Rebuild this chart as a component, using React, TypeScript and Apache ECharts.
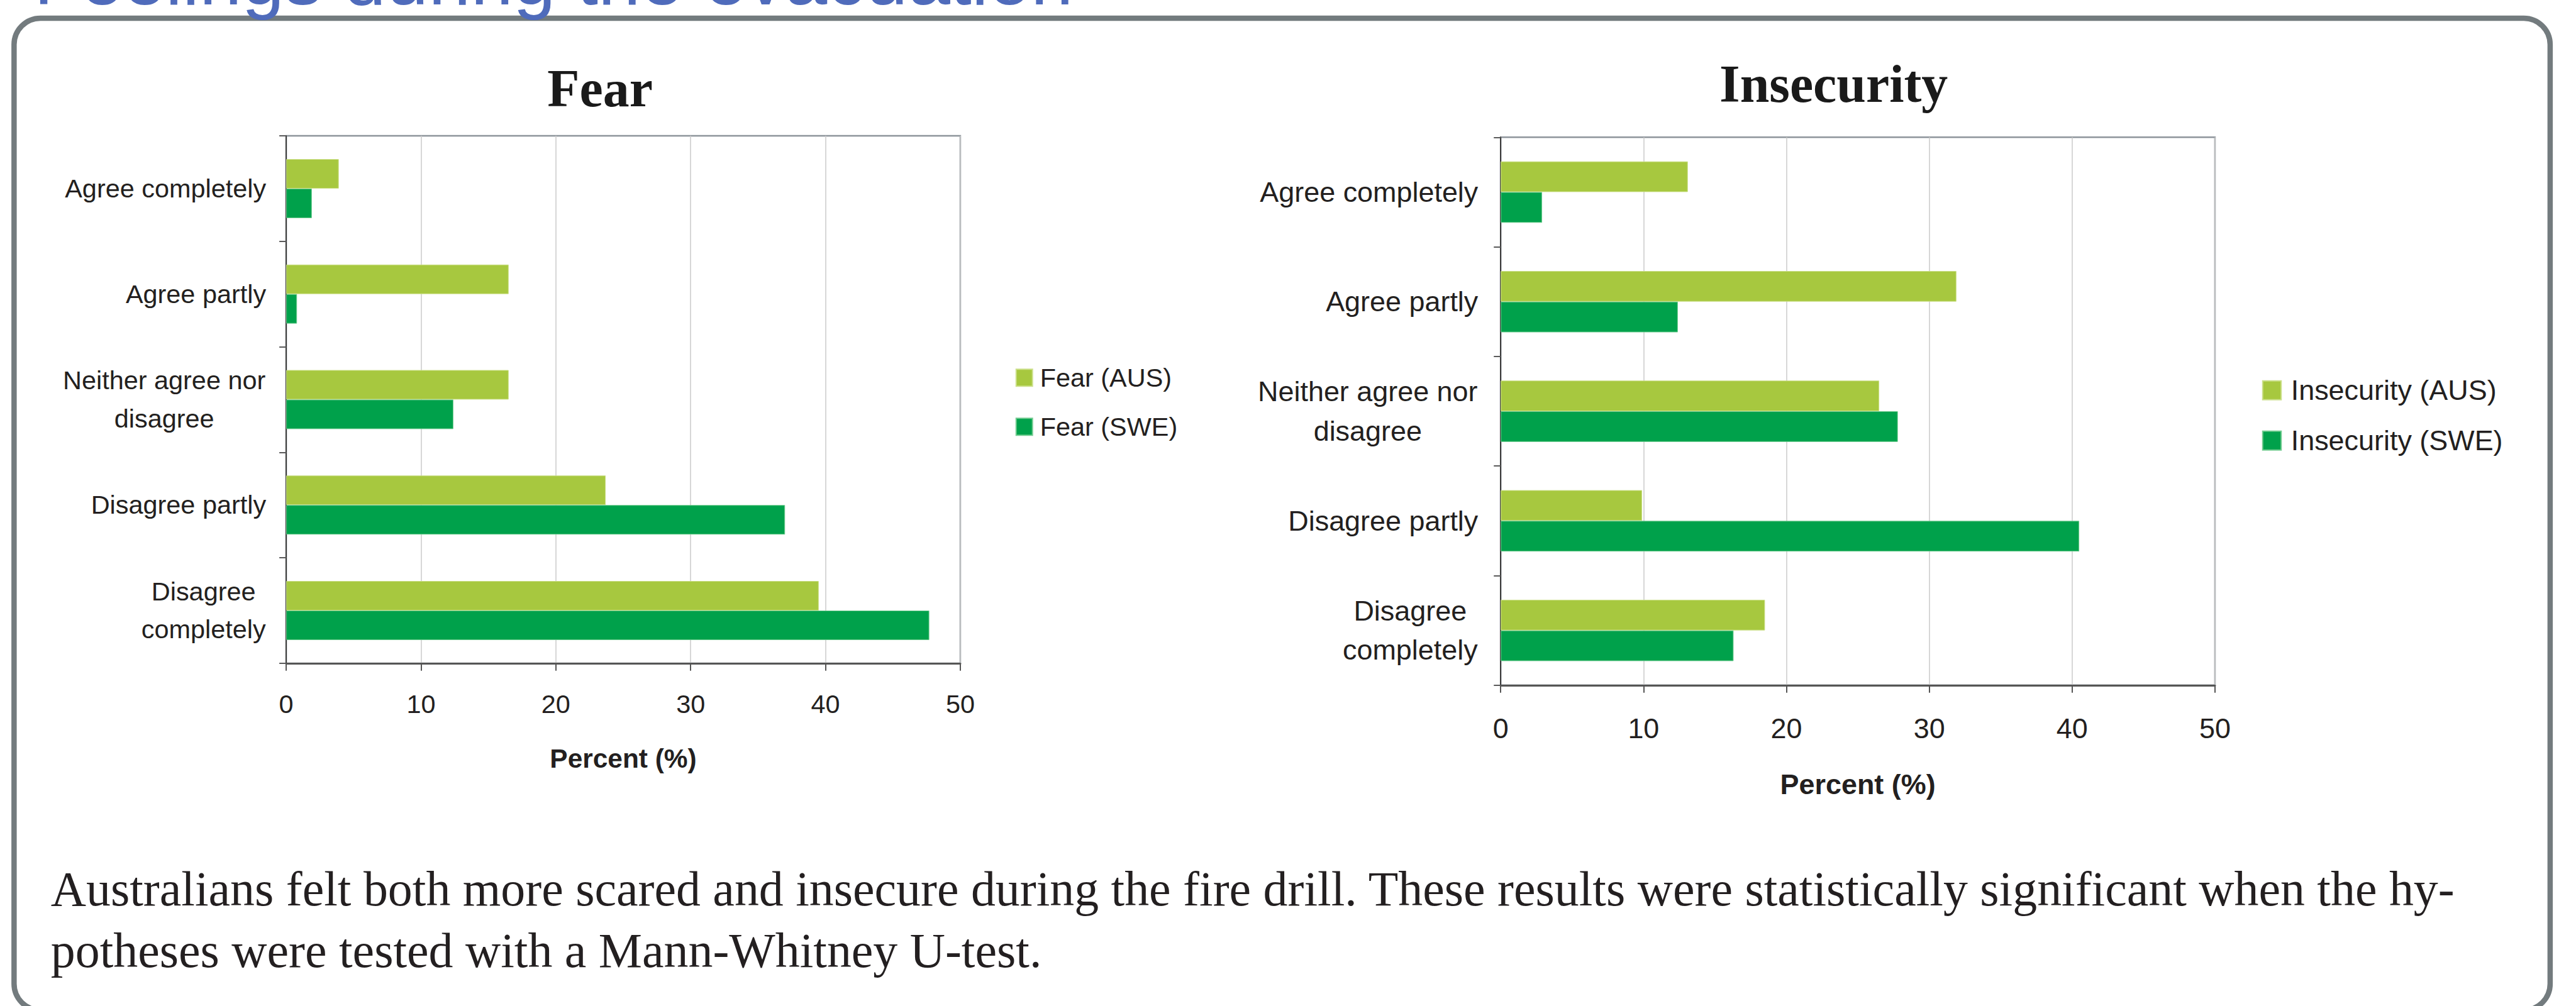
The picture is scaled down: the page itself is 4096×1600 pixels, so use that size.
import React, { useEffect, useRef } from "react";
import * as echarts from "echarts";

const S = 0.998;
const W = 4096;
const H = 1600;

// ---------- data ----------
const categories = [
  "Agree completely",
  "Agree partly",
  "Neither agree nor\ndisagree",
  "Disagree partly",
  "Disagree\ncompletely",
];
const fearAUS = [3.9, 16.5, 16.5, 23.7, 39.5];
const fearSWE = [1.9, 0.8, 12.4, 37.0, 47.7];
const insecurityAUS = [13.1, 31.9, 26.5, 9.9, 18.5];
const insecuritySWE = [2.9, 12.4, 27.8, 40.5, 16.3];
const xTicks = [0, 10, 20, 30, 40, 50];
const chartTitles = ["Fear", "Insecurity"];
const fearNames = ["Fear (AUS)", "Fear (SWE)"];
const insecurityNames = ["Insecurity (AUS)", "Insecurity (SWE)"];
const axisName = "Percent (%)";
const pageTitle = "Feelings during the evacuation";
const bodyLines = [
  "Australians felt both more scared and insecure during the fire drill. These results were statistically significant when the hy-",
  "potheses were tested with a Mann-Whitney U-test.",
];

const AUS_COLOR = "#A7C83F";
const SWE_COLOR = "#00A14B";
const TEXT = "#231F20";
const SANS = '"Liberation Sans", Arial, sans-serif';
const SERIF = '"Liberation Serif", "Times New Roman", serif';

// layout (reference pixel units, scaled by S)
const panels = [
  {
    names: fearNames,
    aus: fearAUS,
    swe: fearSWE,
    title: chartTitles[0],
    titleX: 956,
    titleBase: 169,
    grid: { x0: 456, y0: 216.5, x1: 1530, y1: 1057 },
    fs: 41.5,
    lh: 61,
    labelMargin: 32,
    tickMargin: 45,
    nameGap: 131,
    nameFs: 42.5,
    legend: { left: 1618, top: 581.5, iw: 26, ih: 27, gap: 37, pad: 7 },
  },
  {
    names: insecurityNames,
    aus: insecurityAUS,
    swe: insecuritySWE,
    title: chartTitles[1],
    titleX: 2921.5,
    titleBase: 162.5,
    grid: { x0: 2391, y0: 218.75, x1: 3529, y1: 1092 },
    fs: 45,
    lh: 62.5,
    labelMargin: 36,
    tickMargin: 46,
    nameGap: 135.5,
    nameFs: 45,
    legend: { left: 3604, top: 599.5, iw: 29.5, ih: 30, gap: 35, pad: 10.5 },
  },
];

function measure(text: string, font: string): number {
  const c = document.createElement("canvas").getContext("2d");
  if (!c) return text.length * 20;
  c.font = font;
  return c.measureText(text).width;
}

export default function App() {
  const ref = useRef<HTMLDivElement>(null);

  useEffect(() => {
    if (!ref.current) return;
    document.body.style.margin = "0";
    const chart = echarts.init(ref.current, null, { renderer: "svg", width: W, height: H });

    const grids: any[] = [];
    const xAxes: any[] = [];
    const yAxes: any[] = [];
    const series: any[] = [];
    const legends: any[] = [];
    const graphics: any[] = [];

    panels.forEach((p, i) => {
      const fs = p.fs * S;
      const labelFont = `${fs}px ${SANS}`;
      const rich: any = {};
      categories.forEach((c, ci) => {
        const lines = c.split("\n");
        const w = Math.max(...lines.map((l) => measure(l, labelFont)));
        rich["l" + ci] = {
          width: Math.ceil(w) + 1,
          align: "center",
          fontSize: fs,
          lineHeight: p.lh * S,
          fontFamily: SANS,
          color: TEXT,
        };
      });

      grids.push({
        left: p.grid.x0 * S,
        top: p.grid.y0 * S,
        width: (p.grid.x1 - p.grid.x0) * S,
        height: (p.grid.y1 - p.grid.y0) * S,
        show: true,
        borderColor: "#8D949A",
        borderWidth: 2.5,
        backgroundColor: "transparent",
        containLabel: false,
      });

      xAxes.push({
        type: "value",
        gridIndex: i,
        min: xTicks[0],
        max: xTicks[xTicks.length - 1],
        interval: xTicks[1] - xTicks[0],
        axisLine: { show: true, lineStyle: { color: "#555555", width: 3 } },
        axisTick: { show: true, length: 12 * S, lineStyle: { color: "#555555", width: 2 } },
        splitLine: { show: true, lineStyle: { color: "#CACACA", width: 1.5 } },
        axisLabel: {
          margin: p.tickMargin * S,
          fontSize: fs,
          fontFamily: SANS,
          color: TEXT,
        },
        name: axisName,
        nameLocation: "middle",
        nameGap: p.nameGap * S,
        nameTextStyle: {
          fontWeight: "bold",
          fontSize: p.nameFs * S,
          fontFamily: SANS,
          color: TEXT,
        },
      });

      yAxes.push({
        type: "category",
        gridIndex: i,
        data: categories,
        inverse: true,
        axisLine: { show: true, lineStyle: { color: "#3C3C3C", width: 2 } },
        axisTick: { show: true, interval: 0, length: 11 * S, lineStyle: { color: "#5A5A5A", width: 2 } },
        splitLine: { show: false },
        axisLabel: {
          interval: 0,
          margin: p.labelMargin * S,
          fontSize: fs,
          lineHeight: p.lh * S,
          fontFamily: SANS,
          color: TEXT,
          formatter: (v: string, idx: number) => {
            if (v.indexOf("\n") < 0) return v;
            return v
              .split("\n")
              .map((l) => `{l${idx}|${l}}`)
              .join("\n");
          },
          rich,
        },
      });

      series.push(
        {
          type: "bar",
          name: p.names[0],
          xAxisIndex: i,
          yAxisIndex: i,
          data: p.aus,
          barGap: "0%",
          barCategoryGap: "44%",
          itemStyle: { color: AUS_COLOR, borderColor: "#CCE08A", borderWidth: 1 },
        },
        {
          type: "bar",
          name: p.names[1],
          xAxisIndex: i,
          yAxisIndex: i,
          data: p.swe,
          barGap: "0%",
          barCategoryGap: "44%",
          itemStyle: { color: SWE_COLOR, borderColor: "#72CC90", borderWidth: 1 },
        }
      );

      legends.push({
        show: true,
        orient: "vertical",
        left: p.legend.left * S,
        top: p.legend.top * S,
        padding: 0,
        itemWidth: p.legend.iw * S,
        itemHeight: p.legend.ih * S,
        itemGap: p.legend.gap * S,
        icon: "rect",
        selectedMode: false,
        data: p.names,
        textStyle: {
          fontSize: fs,
          fontFamily: SANS,
          color: TEXT,
          padding: [0, 0, 0, p.legend.pad * S],
        },
      });

      const tfs = 84 * S;
      graphics.push({
        type: "text",
        x: p.titleX * S,
        y: (p.titleBase - 0.3375 * 84) * S,
        style: {
          text: p.title,
          fontSize: tfs,
          fontWeight: "bold",
          fontFamily: SERIF,
          fill: "#1A1A1A",
          align: "center",
          verticalAlign: "middle",
        },
      });
    });

    // frame
    graphics.unshift({
      type: "rect",
      shape: { x: 22.4 * S, y: 29 * S, width: (4063 - 22.4) * S, height: 1581 * S, r: 42 * S },
      style: { fill: "none", stroke: "#737B7E", lineWidth: 8.5 * S },
      z: -1,
    });

    // page title (clipped at top)
    const ptfs = 121.6;
    graphics.push({
      type: "text",
      x: 54 * S,
      y: (7 - 0.3465 * ptfs) * S,
      style: {
        text: pageTitle,
        fontSize: ptfs * S,
        fontFamily: SANS,
        fill: "#4F6BBB",
        align: "left",
        verticalAlign: "middle",
      },
    });

    // body text
    const bfs = 78;
    const bodyFont = `${bfs * S}px ${SERIF}`;
    const natural = measure(bodyLines[0], bodyFont);
    const target = (3911 - 81) * S;
    let sx = natural > 0 ? target / natural : 1;
    if (sx < 0.9 || sx > 1.15) sx = 1;
    const bases = [1442.7, 1541.7];
    bodyLines.forEach((line, li) => {
      graphics.push({
        type: "text",
        x: 81 * S,
        y: (bases[li] - 0.3375 * bfs) * S,
        scaleX: li === 0 ? sx : 1,
        style: {
          text: line,
          x: 0,
          y: 0,
          fontSize: bfs * S,
          fontFamily: SERIF,
          fill: TEXT,
          align: "left",
          verticalAlign: "middle",
        },
      });
    });

    chart.setOption({
      animation: false,
      backgroundColor: "#FFFFFF",
      grid: grids,
      xAxis: xAxes,
      yAxis: yAxes,
      series,
      legend: legends,
      graphic: graphics,
    });

    return () => {
      chart.dispose();
    };
  }, []);

  return (
    <div
      ref={ref}
      style={{ position: "fixed", left: 0, top: 0, width: W, height: H, background: "#fff" }}
    />
  );
}
